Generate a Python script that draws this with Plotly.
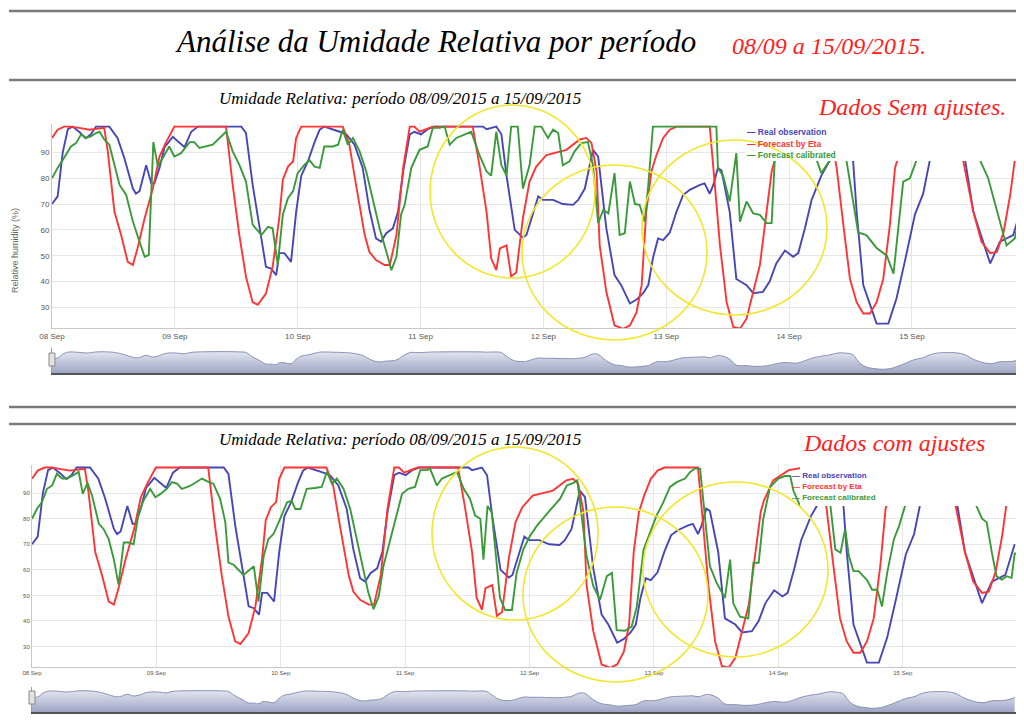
import pandas as pd
import plotly.graph_objects as go

W, H = 1024, 722
OFF = 8  # page margin of the browser around the plot div
base = pd.Timestamp("2015-09-08 00:00")

# hours since 08/09/2015 00:00 and relative humidity (%)
t_obs = [0, 1.1, 2.1, 3.1, 4.0, 5.3, 6.6, 7.6, 8.6, 11.2,
         12.8, 14.1, 15.8, 16.4, 17.1, 18.4, 19.4, 20.0, 21.0, 22.0,
         23.6, 24.9, 25.9, 27.2, 28.5, 37.0, 37.9, 39.2, 40.5, 41.8,
         42.8, 43.8, 44.4, 45.4, 46.7, 47.7, 48.7, 50.0, 51.3, 52.3,
         53.2, 54.9, 56.2, 57.5, 59.1, 60.7, 62.0, 63.3, 64.3, 65.3,
         66.6, 67.6, 68.6, 69.9, 70.8, 72.1, 73.4, 74.7, 84.2, 84.9,
         86.8, 87.8, 88.8, 90.4, 92.0, 92.7, 95.0, 95.9, 97.9, 99.8,
         101.8, 102.8, 104.1, 105.7, 106.7, 108.3, 109.9, 111.2, 112.9, 114.2,
         115.5, 116.5, 117.4, 118.4, 119.4, 120.7, 122.0, 123.3, 124.6, 126.6,
         127.5, 128.5, 129.2, 130.1, 130.8, 132.4, 133.7, 135.7, 137.0, 138.9,
         140.2, 141.5, 143.2, 144.8, 145.8, 147.1, 148.4, 150.3, 152.0, 153.5,
         155.0, 156.5, 157.2, 158.5, 161.1, 163.4, 165.0, 166.6, 168.6, 170.2,
         171.5, 173.0, 175.0, 177.0, 178.4, 180.0, 183.3, 185.2, 187.8, 189.6]
rh_obs = [70, 73, 90, 99, 100, 98, 95.5, 97, 100, 100,
          95.6, 88, 76, 74, 75, 85, 78, 78, 84, 92,
          96, 93.6, 92, 98, 100, 100, 97.5, 77.5, 62, 45.7,
          45, 42.5, 51, 51, 47.6, 67, 81, 86.5, 94, 98.8,
          100, 99, 98, 97, 93, 84, 68, 56.7, 55.4, 58.7,
          60.6, 67, 82.6, 97, 98, 97, 99, 100, 100, 99,
          100, 97, 81, 60, 57, 58, 73, 71.6, 71.6, 70,
          69.7, 71.6, 76, 91, 88.4, 60.6, 42.5, 38.6, 31.5, 33,
          35.5, 38.6, 49, 56.7, 56, 59, 67, 73.5, 75.5, 77.4,
          78, 74, 77.4, 84, 83, 67, 41, 38.6, 35.5, 36,
          40, 47, 52, 49.6, 51, 60.6, 71.6, 81, 87, 95,
          95, 87, 67, 38.6, 23.7, 23.7, 33.5, 47.6, 66, 74,
          87, 95, 97, 95, 87, 67, 47, 55.4, 58, 70]

t_eta = [0, 1.1, 2.4, 3.7, 5.3, 7.3, 10.2, 10.9, 12.2, 13.5,
         14.8, 15.8, 16.7, 18.1, 19.7, 21.0, 22.3, 23.9, 34.0, 35.3,
         36.6, 37.9, 39.2, 40.2, 41.8, 43.1, 44.4, 45.1, 46.1, 47.1,
         47.7, 48.7, 56.8, 58.1, 59.4, 61.1, 62.0, 63.3, 65.0, 66.0,
         67.3, 68.6, 69.9, 70.8, 71.8, 73.4, 74.4, 82.2, 83.5, 84.9,
         85.8, 86.8, 87.5, 88.8, 89.7, 90.7, 92.0, 93.3, 94.6, 96.6,
         97.9, 100.5, 103.1, 104.4, 105.4, 106.4, 107.0, 108.3, 109.9, 111.6,
         112.9, 114.2, 115.2, 116.1, 117.1, 118.1, 119.4, 120.7, 122.0, 128.5,
         129.5, 130.5, 131.8, 133.1, 134.4, 135.7, 137.0, 138.3, 139.6, 140.6,
         141.2, 143.0, 146.0, 149.0, 152.0, 153.3, 154.6, 155.9, 157.2, 158.5,
         159.8, 161.1, 162.4, 163.7, 164.7, 165.3, 167.0, 170.0, 173.0, 176.0,
         178.0, 180.0, 181.6, 183.3, 184.6, 185.9, 187.2, 188.1, 189.9]
rh_eta = [95.6, 98.8, 100, 100, 99.5, 98.8, 99.5, 90.4, 67, 58,
          47.6, 46.4, 52.8, 64.5, 76, 88.4, 94, 100, 100, 77.4,
          58, 41.8, 32, 31, 35.3, 45.7, 64.5, 79.4, 84.5, 86.5,
          95.6, 100, 100, 93, 77.4, 58, 51.5, 48.3, 46.4, 46.4,
          58, 84, 100, 100, 98, 99.4, 100, 100, 85, 67,
          49, 44.4, 52.8, 54, 42, 43.5, 64.5, 78.7, 84.5, 89,
          89.7, 91, 95, 95.6, 93.6, 82.6, 54, 36, 23, 21.7,
          23, 28, 38.6, 67, 82.6, 89, 95.6, 98.8, 100, 100,
          77.4, 54, 32, 22.4, 21.7, 25.6, 36, 46.4, 67, 82.6,
          87, 95, 99, 100, 99, 84, 62, 41, 32, 27.6,
          27.6, 32, 41, 62, 84, 88, 97, 100, 100, 97,
          87, 67, 55.4, 51, 51.5, 59, 73.5, 87, 95]

# calibrated forecast, without adjustments (upper chart)
t_cal_raw = [0, 1.1, 2.4, 3.7, 4.7, 5.7, 6.6, 7.6, 8.6, 9.3,
             10.2, 11.2, 12.2, 13.2, 14.5, 15.8, 17.1, 18.1, 18.9, 19.8,
             20.7, 21.6, 22.9, 23.9, 25.2, 26.9, 27.8, 28.8, 31.4, 34.0,
             35.3, 36.6, 37.9, 39.2, 40.9, 42.2, 43.1, 44.1, 45.1, 46.1,
             47.1, 48.0, 49.3, 50.3, 51.3, 52.3, 53.2, 54.9, 55.9, 56.8,
             57.8, 58.8, 60.1, 61.4, 62.7, 64.0, 65.6, 66.3, 67.3, 68.2,
             68.9, 70.2, 71.8, 73.4, 74.4, 75.7, 76.7, 77.7, 79.0, 80.6,
             81.9, 83.5, 84.9, 85.8, 86.8, 87.8, 88.8, 89.7, 91.0, 92.0,
             93.3, 94.3, 95.6, 96.9, 97.9, 98.9, 99.8, 101.1, 102.1, 103.4,
             104.7, 105.7, 106.7, 107.7, 108.7, 109.9, 110.9, 111.9, 112.9, 113.9,
             114.8, 115.8, 116.5, 117.4, 129.8, 130.1, 131.1, 132.4, 133.7, 134.4,
             135.7, 137.0, 138.3, 139.6, 140.6, 141.2, 143.0, 146.0, 149.4, 150.3,
             152.0, 153.5, 155.2, 157.5, 159.1, 161.1, 163.1, 164.4, 165.4, 166.3,
             167.6, 168.9, 171.0, 174.0, 177.0, 181.3, 182.9, 184.6, 185.9, 186.5,
             188.1, 189.1, 189.9]
rh_cal_raw = [80, 84, 88, 92.3, 93.6, 97, 95.6, 96.2, 97.5, 98,
              95, 93, 85.2, 77.4, 73.5, 63.2, 55.4, 49.6, 50.2, 94,
              84.5, 87.8, 92.3, 88.4, 89.7, 94, 94, 91.7, 93, 98,
              90.4, 85.2, 78.7, 62, 58, 61.2, 60.6, 46.4, 66, 72.3,
              75, 82, 85.2, 87, 84.5, 84, 92.3, 92.3, 93, 98.8,
              93, 95.6, 90.4, 82.6, 71, 60.6, 49.6, 44.4, 49.6, 66,
              69.7, 84, 91, 92.3, 99.5, 99.5, 100, 93, 95.6, 97,
              98, 89, 82.6, 81, 98, 85, 81, 100, 100, 76,
              85, 100, 100, 95.6, 98.8, 97.5, 85, 86.5, 90.4, 93.6,
              94, 85, 62.6, 67.7, 66.4, 82, 58, 58.7, 78.7, 70,
              69.7, 63.2, 77.4, 100, 100, 84, 81, 71, 89.7, 63.2,
              71, 66.4, 65.8, 62.6, 62.6, 87, 95, 96, 87, 82,
              87, 92, 87, 59, 58, 53, 50, 43, 62, 78.7,
              80, 87, 95, 97, 95, 87, 80, 67, 58, 54,
              56.7, 66, 67]

# calibrated forecast, with adjustments (lower chart)
t_cal_adj = [0, 1.0, 1.9, 2.9, 3.9, 4.8, 5.8, 6.8, 8.0, 9.0,
             9.8, 10.7, 11.6, 12.9, 13.8, 14.8, 15.8, 16.7, 17.7, 18.6,
             19.6, 20.6, 21.5, 22.8, 23.8, 24.8, 26.0, 27.0, 28.0, 28.9,
             30.5, 32.8, 34.1, 35.0, 36.3, 37.3, 37.9, 38.9, 40.8, 42.8,
             43.7, 44.7, 45.6, 46.6, 47.9, 49.2, 50.1, 50.8, 51.8, 53.0,
             54.6, 55.9, 56.9, 57.9, 58.8, 60.1, 61.4, 62.7, 64.0, 64.9,
             65.9, 66.9, 67.8, 69.1, 70.1, 71.4, 72.6, 73.9, 74.9, 76.2,
             76.8, 78.1, 79.1, 80.7, 82.0, 83.3, 84.5, 85.5, 86.5, 87.1,
             87.9, 88.7, 89.7, 90.3, 91.3, 92.6, 93.5, 94.8, 96.1, 97.4,
             99.3, 100.6, 101.9, 103.2, 104.5, 105.2, 106.1, 107.0, 108.3, 109.6,
             110.9, 111.9, 112.8, 114.4, 115.7, 116.7, 118.0, 119.3, 120.5, 121.8,
             123.1, 124.4, 126.0, 127.0, 127.9, 128.9, 129.7, 130.8, 132.1, 133.7,
             134.7, 135.3, 136.6, 138.2, 139.2, 140.2, 141.1, 142.4, 144.0, 145.3,
             146.3, 146.9, 148.2, 150.8, 152.5, 154.0, 155.0, 156.0, 156.9, 157.6,
             158.5, 159.5, 161.1, 162.1, 163.1, 164.0, 165.0, 166.3, 167.3, 168.6,
             171.0, 175.0, 179.0, 182.0, 183.3, 184.2, 185.2, 186.1, 187.1, 188.1,
             189.0, 189.6, 190.6]
rh_cal_adj = [80, 84, 86.4, 91.7, 93, 97.6, 95.7, 95.7, 97, 98.3,
              89.7, 94, 89, 78, 76, 72, 64, 54.2, 70.7, 70.7,
              70, 82.5, 87, 91.7, 88.4, 89.7, 91.7, 94.3, 93.7, 91.7,
              92.8, 95.7, 94.3, 93.7, 87.8, 78.6, 62.8, 62, 58, 61.4,
              47.6, 65.4, 72, 74, 80, 86.4, 87, 83.8, 83.8, 91.7,
              92, 92.4, 98.3, 93.7, 95.7, 91.7, 83.8, 72, 60.1, 51,
              44.6, 49.6, 61.4, 72, 80, 89.7, 91.7, 92.4, 99, 99,
              99.6, 93, 95.7, 97.2, 98.3, 91.7, 87.8, 81.2, 80, 64,
              85, 82.5, 62.8, 49, 44.3, 44.3, 58.8, 68, 73.3, 77.2,
              81.8, 85, 87.8, 93, 94, 95, 80.5, 65.4, 53.6, 48.3,
              57.5, 58.8, 36.4, 36.2, 37.8, 45.7, 68, 74.6, 81.2, 86.4,
              92.4, 94.3, 95.7, 98.3, 99.6, 99.6, 83.8, 61.4, 54.9, 49,
              64, 46.9, 41.7, 41, 62.8, 62.8, 80, 92.4, 95.7, 96.7,
              96.7, 91, 85, 88, 92, 86, 68, 66.7, 76, 65.4,
              59.5, 59.5, 56, 52.2, 52.2, 45.7, 58.8, 72, 77.2, 86,
              95, 97, 95, 86, 80, 78.6, 66.7, 57.5, 56.2, 57.5,
              56.8, 66.4, 66.4]

series_names = ["Real observation", "Forecast by Eta", "Forecast calibrated"]
day_labels = ["08 Sep", "09 Sep", "10 Sep", "11 Sep", "12 Sep", "13 Sep", "14 Sep", "15 Sep"]
y_ticks = [30, 40, 50, 60, 70, 80, 90]

BLUE, RED, GREEN = "#4646b8", "#ff3434", "#3a9a3a"


def times(hours):
    return [base + pd.Timedelta(hours=h) for h in hours]


# screen pixel -> paper fraction
def px(x):
    return (x - OFF) / W


def py(y):
    return 1 - (y - OFF) / H


fig = go.Figure()

# upper chart (sem ajustes) and lower chart (com ajustes)
panels = [("x", "y", "x2", "y2", t_cal_raw, rh_cal_raw),
          ("x3", "y3", "x4", "y4", t_cal_adj, rh_cal_adj)]
for xa, ya, xn, yn, t_cal, rh_cal in panels:
    for name, t, v, col in [(series_names[0], t_obs, rh_obs, BLUE),
                            (series_names[1], t_eta, rh_eta, RED),
                            (series_names[2], t_cal, rh_cal, GREEN)]:
        fig.add_trace(go.Scatter(x=times(t), y=v, mode="lines", name=name,
                                 line=dict(color=col, width=1.9),
                                 xaxis=xa, yaxis=ya, showlegend=False))
    # navigator
    fig.add_trace(go.Scatter(x=times(t_obs), y=rh_obs, mode="lines",
                             line=dict(color="#8790b4", width=1, shape="spline", smoothing=1.3),
                             fill="tozeroy",
                             fillgradient=dict(type="vertical",
                                               colorscale=[[0, "#9aa2c2"], [1, "#e2e6f0"]]),
                             xaxis=xn, yaxis=yn, showlegend=False, hoverinfo="skip"))

top_end = base + pd.Timedelta(hours=189.9)
bot_end = base + pd.Timedelta(hours=191.4)
tickvals = [base + pd.Timedelta(days=k) for k in range(8)]

grid = "#e6e6e6"
common_x = dict(type="date", tickvals=tickvals, ticktext=day_labels, showgrid=True,
                gridcolor=grid, showline=True, linecolor="#c8c8c8", ticks="",
                zeroline=False, automargin=False)
common_y = dict(tickvals=y_ticks, showgrid=True, gridcolor=grid, zeroline=False,
                showline=True, linecolor="#c8c8c8", ticks="", range=[22, 101],
                automargin=False)
nav_x = dict(type="date", showticklabels=False, showgrid=False, showline=True,
             linecolor="#555555", linewidth=2, zeroline=False, ticks="", automargin=False)
nav_y = dict(range=[5, 118], showticklabels=False, showgrid=False, zeroline=False,
             showline=True, linecolor="#9a9a9a", ticks="", automargin=False)

fig.update_layout(
    width=W, height=H, autosize=False,
    margin=dict(l=0, r=0, t=0, b=0, autoexpand=False),
    paper_bgcolor="white", plot_bgcolor="white",
    font=dict(family="Liberation Sans, Arial, sans-serif", color="#555555"),
    xaxis=dict(common_x, domain=[px(52), px(1024)], range=[base, top_end], anchor="y",
               tickfont=dict(size=8, color="#555")),
    yaxis=dict(common_y, domain=[py(328), py(124)], anchor="x",
               tickfont=dict(size=8, color="#555")),
    xaxis2=dict(nav_x, domain=[px(52), px(1024)], range=[base, top_end], anchor="y2"),
    yaxis2=dict(nav_y, domain=[py(373), py(348)], anchor="x2"),
    xaxis3=dict(common_x, domain=[px(32), px(1024)], range=[base, bot_end], anchor="y3",
                tickfont=dict(size=6, color="#555")),
    yaxis3=dict(common_y, domain=[py(667), py(465)], anchor="x3",
                tickfont=dict(size=6, color="#555")),
    xaxis4=dict(nav_x, domain=[px(32), px(1024)], range=[base, bot_end], anchor="y4"),
    yaxis4=dict(nav_y, domain=[py(712), py(687)], anchor="x4"),
)

shapes = []
# separators
for yy in [11, 80, 407, 424]:
    shapes.append(dict(type="line", xref="paper", yref="paper", x0=px(9), x1=1,
                       y0=py(yy), y1=py(yy), line=dict(color="#7a7a7a", width=2.5)))
# white boxes behind the legends
shapes.append(dict(type="rect", xref="paper", yref="paper", x0=px(745), x1=1,
                   y0=py(161), y1=py(112), fillcolor="white", line=dict(width=0), layer="above"))
shapes.append(dict(type="rect", xref="paper", yref="paper", x0=px(800), x1=1,
                   y0=py(506), y1=py(462), fillcolor="white", line=dict(width=0), layer="above"))
# navigator handles
for x0, y0, x1, y1 in [(49, 353, 55, 366), (29, 691, 35, 704), (1018, 691, 1024, 704)]:
    shapes.append(dict(type="rect", xref="paper", yref="paper", x0=px(x0), x1=px(x1),
                       y0=py(y1), y1=py(y0), fillcolor="#e2e2e2",
                       line=dict(color="#8a8a8a", width=1), layer="above"))
# yellow highlight circles
for x0, y0, x1, y1 in [(430, 105, 595, 278), (522, 165, 707, 340), (642, 140, 827, 315),
                       (432, 447, 598, 620), (523, 507, 708, 682), (643, 482, 828, 657)]:
    shapes.append(dict(type="circle", xref="paper", yref="paper", x0=px(x0), x1=px(x1),
                       y0=py(y1), y1=py(y0), line=dict(color="#f3e62c", width=1.6),
                       layer="above"))
fig.update_layout(shapes=shapes)

serif = "Liberation Serif, Times New Roman, serif"
ann = [
    dict(text="Análise da Umidade Relativa por período", x=px(435), y=py(42),
         font=dict(family=serif, size=31, color="black", style="italic")),
    dict(text="08/09 a 15/09/2015.", x=px(829), y=py(46),
         font=dict(family=serif, size=24, color="#ff2020", style="italic")),
    dict(text="Umidade Relativa: período 08/09/2015 a 15/09/2015", x=px(400), y=py(98),
         font=dict(family=serif, size=17, color="black", style="italic")),
    dict(text="Dados Sem ajustes.", x=px(912), y=py(107),
         font=dict(family=serif, size=24, color="#ff2020", style="italic")),
    dict(text="Umidade Relativa: período 08/09/2015 a 15/09/2015", x=px(400), y=py(440),
         font=dict(family=serif, size=17, color="black", style="italic")),
    dict(text="Dados com ajustes", x=px(894), y=py(443),
         font=dict(family=serif, size=24, color="#ff2020", style="italic")),
    dict(text="Relative humidity (%)", x=px(15), y=py(251), textangle=-90,
         font=dict(size=9, color="#666")),
]
for a in ann:
    a.update(xref="paper", yref="paper", showarrow=False, xanchor="center", yanchor="middle")

# legends drawn as text
for (lx, ly0, step, fsize) in [(745, 132, 11.5, 8.5), (790, 475, 11.5, 8)]:
    for k, (name, col) in enumerate(zip(series_names, [BLUE, RED, GREEN])):
        ann.append(dict(text="<b>— " + name + "</b>", x=px(lx), y=py(ly0 + k * step),
                        xref="paper", yref="paper", showarrow=False, xanchor="left",
                        yanchor="middle", font=dict(size=fsize, color=col)))
fig.update_layout(annotations=ann)

fig.write_html("out.html")
